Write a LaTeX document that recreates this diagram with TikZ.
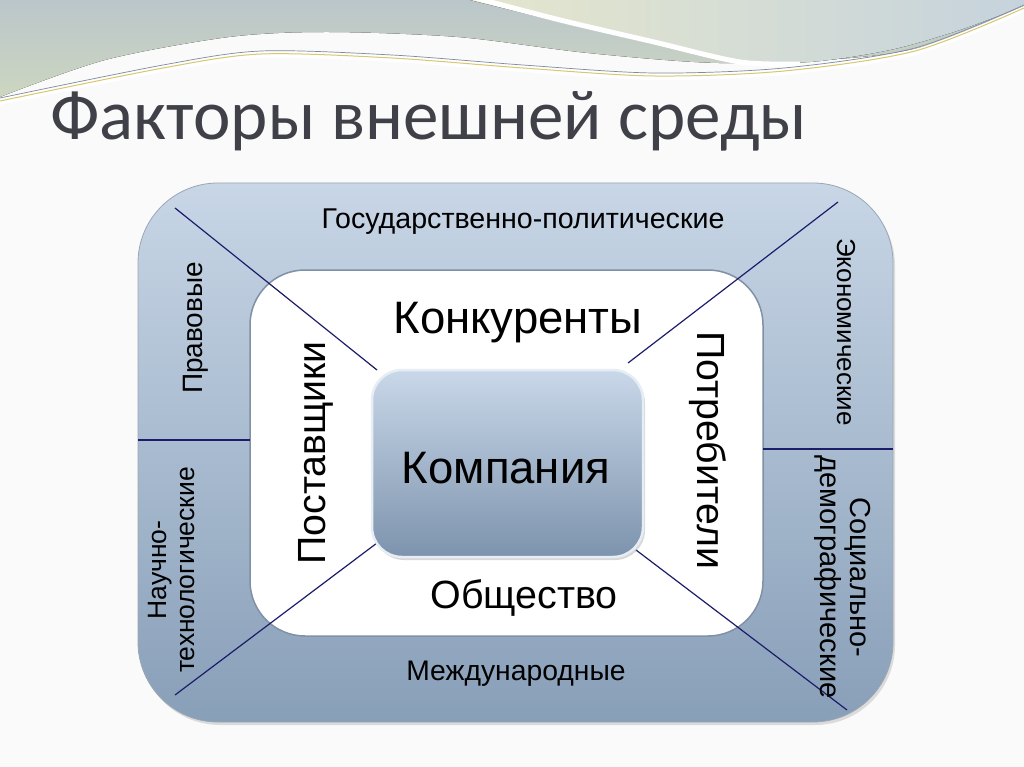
\documentclass[tikz,border=0pt]{standalone}
\usepackage{fontspec}
\setmainfont{Liberation Sans}
\newfontfamily\titlefont{Carlito}
\usetikzlibrary{shadows}
\definecolor{bgw}{HTML}{FAFAFA}
\definecolor{bandA}{HTML}{BAC6CA}
\definecolor{bandB}{HTML}{CDD6C0}
\definecolor{paleA}{HTML}{E4E6CC}
\definecolor{paleB}{HTML}{C6D3DD}
\definecolor{goldl}{HTML}{D9C66E}
\definecolor{grayl}{HTML}{7F8C9C}
\definecolor{titlegray}{HTML}{404048}
\definecolor{frameTop}{HTML}{C8D6E6}
\definecolor{frameBot}{HTML}{889FB8}
\definecolor{frameEdge}{HTML}{9AA6B4}
\definecolor{innerEdge}{HTML}{8090A6}
\definecolor{boxTop}{HTML}{C9D8E9}
\definecolor{boxBot}{HTML}{7D93AD}
\definecolor{boxEdge}{HTML}{E6EDF4}
\definecolor{navy}{HTML}{1C1C6B}
\tikzset{
  lbl/.style={text=black, inner sep=0pt},
  big/.style={text=black, inner sep=0pt},
  divider/.style={draw=navy, line width=1.2pt},
}
\newcommand{\fsz}[1]{\fontsize{#1}{#1}\selectfont}
\begin{document}
\begin{tikzpicture}[x=1pt,y=-1pt]
\useasboundingbox (0,0) rectangle (1024,767);
\fill[bgw] (0,0) rectangle (1024,767);
% top decoration
\fill[top color=bandA, bottom color=bandB] (0,0) -- (1024,0) -- plot[smooth] coordinates
  {(1024,10) (930,45) (850,58) (719,63) (588,53) (458,37) (327,32) (229,37) (105,60) (0,97)} -- cycle;
\fill[left color=paleA, right color=paleB] (470,0) -- plot[smooth] coordinates
  {(470,0) (560,22) (654,44) (735,61) (810,62) (890,50) (960,30) (1024,6)} -- (1024,0) -- cycle;
\draw[white, line width=5pt] plot[smooth] coordinates {(468,-4) (560,20) (654,42) (740,62) (800,64)};
\fill[white] plot[smooth] coordinates
  {(0,99) (163,66) (261,52) (392,56) (523,66) (654,74) (784,69) (915,49) (1024,6)}
  -- (1024,12) -- plot[smooth] coordinates
  {(1024,12) (915,55) (784,75) (654,80) (523,72) (392,62) (261,58) (163,72) (0,105)} -- cycle;
\draw[goldl, line width=1pt] plot[smooth] coordinates
  {(0,101) (163,68) (261,54) (392,58) (523,68) (654,76) (784,71) (915,51) (1024,8)};
\draw[grayl, line width=0.7pt] plot[smooth] coordinates
  {(0,98) (163,65) (261,51) (392,55) (523,65) (654,73) (784,68) (915,48) (1024,5)};
% title
\node[anchor=base west, inner sep=0pt, text=titlegray, font=\titlefont\fsz{71}] (title) at (50,140) {Факторы внешней среды};
% frames
\node[draw=frameEdge, line width=0.8pt, top color=frameTop, bottom color=frameBot,
  rounded corners=80pt, minimum width=755pt, minimum height=539pt, inner sep=0pt,
  drop shadow={shadow xshift=2pt, shadow yshift=-3pt, opacity=0.25}] (outer) at (515.5,452.5) {};
\node[draw=innerEdge, line width=1.5pt, fill=white, rounded corners=55pt,
  minimum width=513pt, minimum height=366pt, inner sep=0pt] (inner) at (506.5,453) {};
% divider coordinates
\coordinate (tl1) at (175,208); \coordinate (tl2) at (377,370);
\coordinate (tr1) at (838,202); \coordinate (tr2) at (628,363);
\coordinate (bl1) at (175,695); \coordinate (bl2) at (377,543);
\coordinate (br1) at (636,550); \coordinate (br2) at (847,710);
\coordinate (hl1) at (138,440); \coordinate (hl2) at (250,440);
\coordinate (hr1) at (763,449); \coordinate (hr2) at (893,449);
\draw[divider] (tl1) -- (tl2);
\draw[divider] (tr1) -- (tr2);
\draw[divider] (bl1) -- (bl2);
\draw[divider] (br1) -- (br2);
\draw[divider] (hl1) -- (hl2);
\draw[divider] (hr1) -- (hr2);
% center box
\node[draw=boxEdge, line width=2.5pt, top color=boxTop, bottom color=boxBot,
  rounded corners=30pt, minimum width=271pt, minimum height=187pt, inner sep=0pt,
  drop shadow={shadow xshift=2pt, shadow yshift=-3pt, opacity=0.3}] (company) at (507.5,463.5) {};
\node[big, font=\fsz{45.5}, anchor=base] (companyt) at (506,483) {Компания};
% outer labels
\node[lbl, font=\fsz{28.6}, anchor=base] (gos) at (523,229) {Государственно-политические};
\node[lbl, font=\fsz{28.3}, anchor=base] (mezh) at (516,680) {Международные};
\node[lbl, font=\fsz{28}, anchor=base, rotate=90] (prav) at (202,328) {Правовые};
\node[lbl, font=\fsz{26}, anchor=base, rotate=-90] (econ) at (837,332) {Экономические};
\node[lbl, font=\fontsize{26.5}{28}\selectfont, align=center, rotate=90] (nauch) at (172,570) {Научно-\\технологические};
\node[lbl, font=\fontsize{29}{30}\selectfont, align=center, rotate=-90] (soc) at (843,577) {Социально-\\демографические};
% inner labels
\node[big, font=\fsz{45.5}, anchor=base] (konk) at (518,333) {Конкуренты};
\node[big, font=\fsz{39.4}, anchor=base] (obsh) at (524,608) {Общество};
\node[big, font=\fsz{39.3}, anchor=base, rotate=90] (post) at (325,453) {Поставщики};
\node[big, font=\fsz{39.3}, anchor=base, rotate=-90] (potr) at (697,450) {Потребители};
\end{tikzpicture}
\end{document}
